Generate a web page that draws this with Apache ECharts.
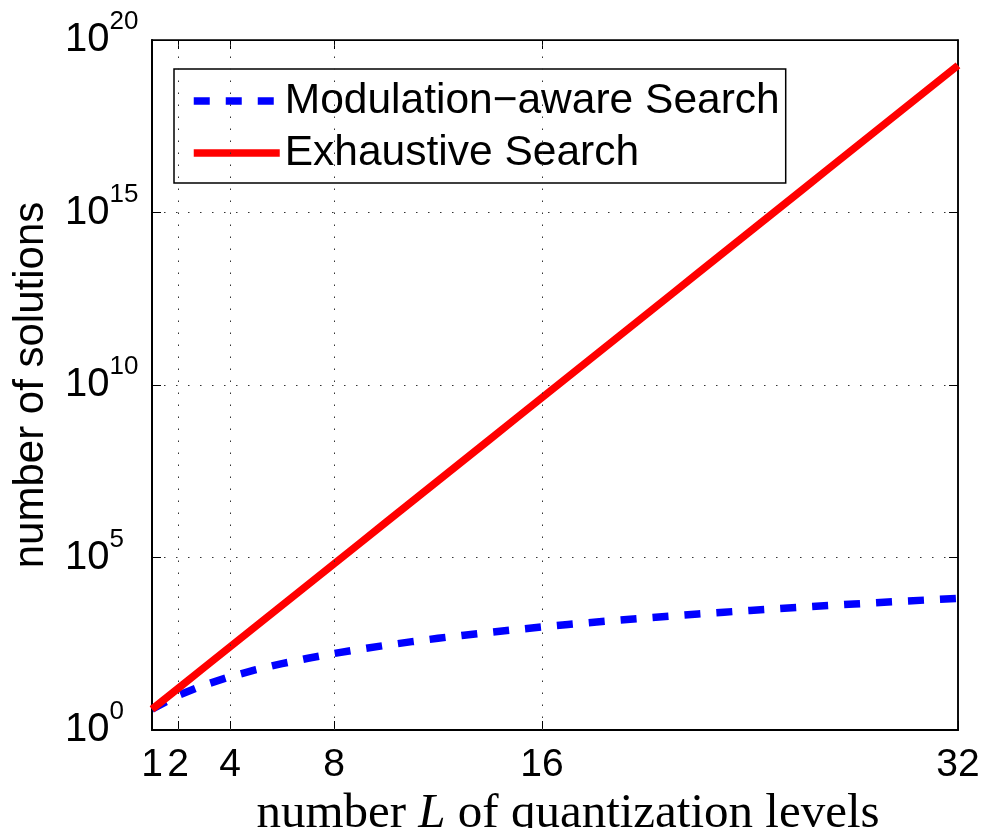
<!DOCTYPE html>
<html>
<head>
<meta charset="utf-8">
<script src="https://cdn.jsdelivr.net/npm/echarts@6/dist/echarts.min.js"></script>
<style>
  html, body { margin: 0; padding: 0; background: #fff; }
  #chart { width: 983px; height: 828px; }
</style>
</head>
<body>
<div id="chart"></div>
<script>
// Quantization levels L on the x axis
const levels = [1, 2, 3, 4, 5, 6, 7, 8, 9, 10, 11, 12, 13, 14, 15, 16,
                17, 18, 19, 20, 21, 22, 23, 24, 25, 26, 27, 28, 29, 30, 31, 32];

// Number of candidate solutions, modulation-aware search
const modulationAware = [4, 10, 20, 35, 56, 84, 120, 165, 220, 286, 364, 455, 560, 680, 816, 969,
                         1140, 1330, 1540, 1771, 2024, 2300, 2600, 2925, 3276, 3654, 4060, 4495, 4960, 5456, 5984, 6545];

// Number of candidate solutions, exhaustive search
const exhaustive = [4, 16, 64, 256, 1024, 4096, 16384, 65536, 262144, 1048576, 4194304, 16777216,
                    67108864, 268435456, 1073741824, 4294967296, 1.718e10, 6.872e10, 2.749e11, 1.0995e12,
                    4.398e12, 1.759e13, 7.037e13, 2.815e14, 1.126e15, 4.504e15, 1.801e16, 7.206e16,
                    2.882e17, 1.153e18, 4.612e18, 1.845e19];

const seriesNames = ['Modulation\u2212aware Search', 'Exhaustive Search'];

// Tick positions on the L axis
const xTickValues = [1, 2, 4, 8, 16, 32];
const xGridValues = [2, 4, 8, 16];

const SANS = '"Liberation Sans", Arial, Helvetica, sans-serif';
const SERIF = '"Liberation Serif", "Times New Roman", serif';
const dotted = { color: '#333', width: 1, type: [1.5, 10.5] };

const blueStyle = { color: '#0000ff', width: 7.5, type: [16, 16] };
const redStyle = { color: '#ff0000', width: 7.5, type: 'solid' };

const chart = echarts.init(document.getElementById('chart'), null, { renderer: 'canvas' });

const expLabel = v => '{b|10}{e|' + Math.round(Math.log10(v)) + '}';

chart.setOption({
  animation: false,
  backgroundColor: '#fff',
  grid: {
    left: 152, right: 25, top: 40, bottom: 98,
    outerBoundsMode: 'none',
    containLabel: false,
    show: true, borderColor: '#000', borderWidth: 1.5, backgroundColor: 'transparent'
  },
  legend: {
    data: [
      { name: seriesNames[0], lineStyle: blueStyle },
      { name: seriesNames[1], lineStyle: redStyle }
    ],
    orient: 'vertical',
    left: 174,
    top: 69,
    padding: [9, 6, 7, 16],
    itemGap: 6,
    itemWidth: 86,
    itemHeight: 14,
    itemStyle: { opacity: 0, borderWidth: 0 },
    backgroundColor: '#fff',
    borderColor: '#000',
    borderWidth: 1.5,
    borderRadius: 0,
    textStyle: { fontFamily: SANS, fontSize: 42.5, color: '#000', lineHeight: 46 }
  },
  xAxis: [
    {
      type: 'value',
      min: 1,
      max: 32,
      interval: 1,
      name: 'number {i|L} of quantization levels',
      nameLocation: 'middle',
      nameGap: 55,
      nameTextStyle: {
        fontFamily: SERIF, fontSize: 49, color: '#000',
        padding: [0, 0, 0, 26],
        rich: { i: { fontFamily: SERIF, fontSize: 49, fontStyle: 'italic', color: '#000' } }
      },
      axisLine: { show: true, lineStyle: { color: '#000', width: 2 } },
      axisTick: { show: true, inside: true, length: 9, customValues: xTickValues, lineStyle: { color: '#000', width: 1 } },
      axisLabel: { show: true, customValues: xTickValues, fontFamily: SANS, fontSize: 39, color: '#000', margin: 16 },
      splitLine: { show: false }
    },
    {
      type: 'value',
      position: 'top',
      min: 1,
      max: 32,
      interval: 1,
      axisLine: { show: true, lineStyle: { color: '#000', width: 1 } },
      axisTick: { show: true, inside: true, length: 9, customValues: xGridValues, lineStyle: { color: '#000', width: 1 } },
      axisLabel: { show: false },
      splitLine: { show: false }
    }
  ],
  yAxis: [
    {
      type: 'log',
      logBase: 10,
      min: 1,
      max: 1e20,
      interval: 5,
      splitNumber: 4,
      name: 'number of solutions',
      nameLocation: 'middle',
      nameGap: 100,
      nameTextStyle: { fontFamily: SANS, fontSize: 42, color: '#000' },
      axisLine: { show: true, lineStyle: { color: '#000', width: 2 } },
      axisTick: { show: true, inside: true, length: 9, lineStyle: { color: '#000', width: 1 } },
      axisLabel: {
        formatter: expLabel,
        align: 'left',
        margin: 87,
        padding: [0, 0, 11, 0],
        rich: {
          b: { fontFamily: SANS, fontSize: 40, color: '#000', verticalAlign: 'bottom' },
          e: { fontFamily: SANS, fontSize: 26, color: '#000', verticalAlign: 'bottom', padding: [0, 0, 25, 0] }
        }
      },
      splitLine: { show: true, lineStyle: dotted }
    },
    {
      type: 'log',
      logBase: 10,
      position: 'right',
      min: 1,
      max: 1e20,
      interval: 5,
      splitNumber: 4,
      axisLine: { show: true, lineStyle: { color: '#000', width: 1.5 } },
      axisTick: { show: true, inside: true, length: 9, lineStyle: { color: '#000', width: 1 } },
      axisLabel: { show: false },
      splitLine: { show: false }
    }
  ],
  series: [
    {
      name: seriesNames[0],
      type: 'line',
      xAxisIndex: 0,
      yAxisIndex: 0,
      data: levels.map((L, i) => [L, modulationAware[i]]),
      symbol: 'none',
      color: '#0000ff',
      lineStyle: blueStyle,
      markLine: {
        silent: true,
        symbol: ['none', 'none'],
        label: { show: false },
        lineStyle: dotted,
        emphasis: { disabled: true },
        data: xGridValues.map(v => ({ xAxis: v }))
      },
      z: 3
    },
    {
      name: seriesNames[1],
      type: 'line',
      xAxisIndex: 0,
      yAxisIndex: 0,
      data: levels.map((L, i) => [L, exhaustive[i]]),
      symbol: 'none',
      color: '#ff0000',
      lineStyle: redStyle,
      z: 4
    }
  ]
});
</script>
</body>
</html>
